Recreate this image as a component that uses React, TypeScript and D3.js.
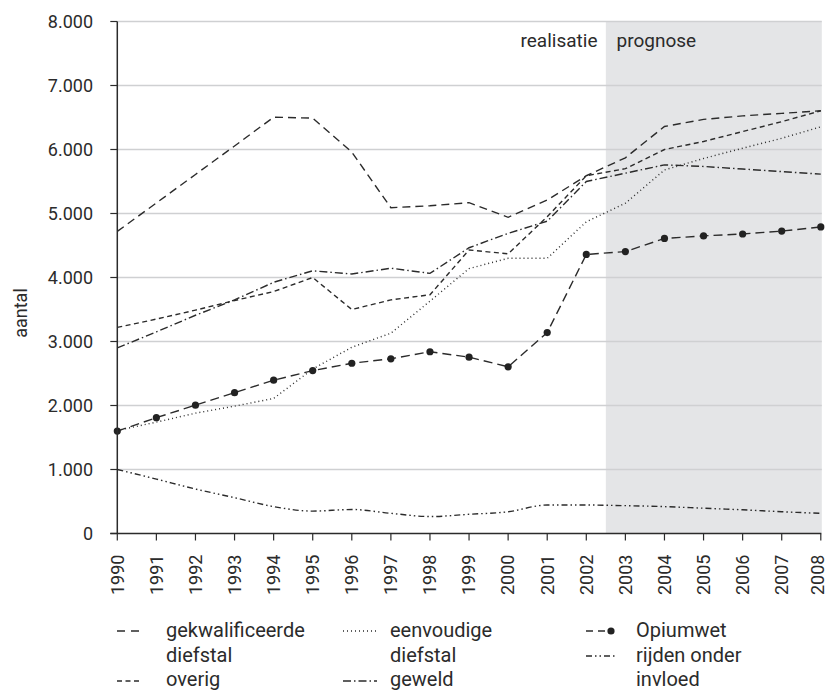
import React from "react";
import * as d3 from "d3";

const years = [1990, 1991, 1992, 1993, 1994, 1995, 1996, 1997, 1998, 1999, 2000, 2001, 2002, 2003, 2004, 2005, 2006, 2007, 2008];
const gekwalificeerde = [4720, 5165, 5610, 6055, 6505, 6490, 5960, 5090, 5120, 5170, 4940, 5210, 5590, 5870, 6360, 6470, 6525, 6565, 6605];
const overig = [3220, 3350, 3490, 3640, 3780, 4000, 3500, 3650, 3730, 4430, 4370, 4950, 5590, 5700, 6000, 6125, 6280, 6435, 6605];
const eenvoudige = [1610, 1740, 1880, 1990, 2110, 2570, 2910, 3130, 3630, 4140, 4300, 4300, 4870, 5160, 5680, 5860, 6020, 6175, 6355];
const geweld = [2900, 3150, 3410, 3650, 3925, 4105, 4055, 4145, 4065, 4465, 4690, 4880, 5500, 5630, 5760, 5735, 5695, 5655, 5615];
const opiumwet = [1600, 1810, 2005, 2200, 2395, 2545, 2660, 2730, 2840, 2755, 2605, 3140, 4360, 4405, 4610, 4650, 4680, 4725, 4790];
const rijden = [1000, 850, 695, 560, 420, 350, 375, 315, 265, 300, 340, 445, 445, 435, 420, 395, 370, 340, 315];
const yTicks = [0, 1000, 2000, 3000, 4000, 5000, 6000, 7000, 8000];
const prognoseStart = 2002.5;

const W = 828, H = 691;
const FONT = "Roboto, 'Noto Sans', sans-serif";
const INK = "#2b2b2b";

const x = d3.scaleLinear().domain([1990, 2008]).range([117.3, 820.8]);
const y = d3.scaleLinear().domain([0, 8000]).range([533.5, 21.5]);
const fmt = (v: number) => (v === 0 ? "0" : d3.format(",")(v).replace(/,/g, "."));

const lineGen = d3.line<number>().x((_, i) => x(years[i])).y((d) => y(d));
const smoothGen = d3.line<number>().x((_, i) => x(years[i])).y((d) => y(d)).curve(d3.curveMonotoneX);

const series = [
  { name: "gekw", data: gekwalificeerde, dash: "8,5", gen: lineGen },
  { name: "overig", data: overig, dash: "5,3.5", gen: lineGen },
  { name: "eenv", data: eenvoudige, dash: "1,3", gen: lineGen },
  { name: "geweld", data: geweld, dash: "8,3,1.5,3", gen: lineGen },
  { name: "rijden", data: rijden, dash: "6,3,1.5,3,1.5,3", gen: smoothGen },
  { name: "opium", data: opiumwet, dash: "9,5", gen: lineGen },
];

export default function App() {
  const [x0, x1] = x.range();
  const legendFont = 20;
  return (
    <svg width={W} height={H} style={{ position: "absolute", left: 0, top: 0, background: "#fff" }} fontFamily={FONT}>
      <rect x={x(prognoseStart)} y={y(8000)} width={x(2008) + 1 - x(prognoseStart)} height={y(0) - y(8000)} fill="#e4e5e7" />
      {yTicks.filter((t) => t > 0).map((t) => (
        <line key={t} x1={x0} x2={x1 + 1} y1={y(t)} y2={y(t)} stroke="#cfd0d2" strokeWidth={1.5} />
      ))}
      <text x={597.5} y={47} textAnchor="end" fontSize={19} fill={INK}>realisatie</text>
      <text x={616.5} y={47} fontSize={19} fill={INK}>prognose</text>
      {series.map((s) => (
        <path key={s.name} d={s.gen(s.data) || ""} fill="none" stroke={INK} strokeWidth={1.4} strokeDasharray={s.dash} />
      ))}
      {opiumwet.map((v, i) => (
        <circle key={i} cx={x(years[i])} cy={y(v)} r={3.6} fill="#222" />
      ))}
      {/* axes */}
      <line x1={x0} x2={x0} y1={y(8000)} y2={y(0)} stroke={INK} strokeWidth={1.5} />
      <line x1={x0 - 7} x2={x1 + 0.5} y1={y(0)} y2={y(0)} stroke={INK} strokeWidth={1.5} />
      {yTicks.map((t) => (
        <g key={t}>
          <line x1={x0 - 7} x2={x0} y1={y(t)} y2={y(t)} stroke={INK} strokeWidth={1.2} />
          <text x={93} y={y(t)} dy="0.35em" textAnchor="end" fontSize={18} fill={INK}>{fmt(t)}</text>
        </g>
      ))}
      {years.map((yr) => (
        <g key={yr}>
          <line x1={x(yr)} x2={x(yr)} y1={y(0)} y2={y(0) + 7} stroke={INK} strokeWidth={1.2} />
          <text transform={`translate(${Math.min(x(yr), 818)},${595}) rotate(-90)`} dy="0.35em" fontSize={18} fill={INK}>{yr}</text>
        </g>
      ))}
      <text transform={`translate(21,313) rotate(-90)`} dy="0.35em" textAnchor="middle" fontSize={18} fill={INK}>aantal</text>
      {/* legend */}
      <g fontSize={legendFont} fill={INK}>
        <line x1={117} x2={139} y1={631} y2={631} stroke={INK} strokeWidth={1.4} strokeDasharray="8,6" />
        <text x={166} y={637}>gekwalificeerde</text>
        <text x={166} y={662}>diefstal</text>
        <line x1={117} x2={139} y1={681} y2={681} stroke={INK} strokeWidth={1.4} strokeDasharray="5,3.5" />
        <text x={166} y={686}>overig</text>

        <line x1={343} x2={377} y1={631} y2={631} stroke={INK} strokeWidth={1.4} strokeDasharray="1,3" />
        <text x={390} y={637}>eenvoudige</text>
        <text x={390} y={662}>diefstal</text>
        <line x1={343} x2={377} y1={681} y2={681} stroke={INK} strokeWidth={1.4} strokeDasharray="8,3,1.5,3" />
        <text x={390} y={686}>geweld</text>

        <line x1={586} x2={612} y1={631} y2={631} stroke={INK} strokeWidth={1.4} strokeDasharray="7,5" />
        <circle cx={611} cy={631} r={3.6} fill="#222" />
        <text x={636} y={637}>Opiumwet</text>
        <line x1={586} x2={616} y1={656} y2={656} stroke={INK} strokeWidth={1.4} strokeDasharray="6,3,1.5,3,1.5,3" />
        <text x={636} y={662}>rijden onder</text>
        <text x={636} y={686}>invloed</text>
      </g>
    </svg>
  );
}
